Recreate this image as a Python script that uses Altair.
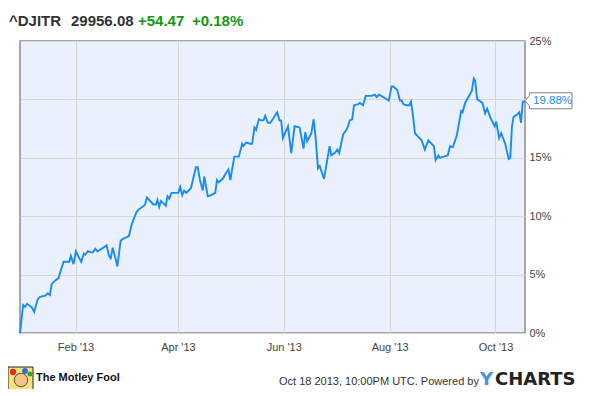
import altair as alt
import pandas as pd

# ---- data ----
day_offsets = [0, 1.8, 2.9, 4.1, 6.8, 8.2, 10.2, 11.6, 14.5, 16.0,
               17.2, 18.3, 20.3, 22.2, 25.1, 27.0, 28.4, 29.3, 30.9, 32.2,
               33.8, 35.3, 36.8, 37.6, 39.1, 41.1, 42.0, 43.4, 44.6, 46.9,
               48.0, 49.9, 51.3, 52.3, 53.4, 55.0, 56.1, 58.0, 58.8, 59.9,
               62.8, 64.2, 65.4, 67.3, 68.6, 70.6, 72.1, 73.1, 75.0, 76.9,
               78.3, 79.2, 80.2, 81.2, 82.7, 84.0, 85.0, 86.0, 87.3, 88.8,
               91.2, 92.3, 93.5, 94.6, 95.8, 98.5, 99.8, 101.4, 102.4, 103.7,
               105.3, 106.2, 108.2, 110.1, 112.5, 113.5, 114.5, 116.8, 118.7, 120.1,
               121.2, 123.5, 126.1, 128.0, 128.7, 130.3, 132.6, 133.8, 135.1, 136.1,
               137.6, 139.0, 140.3, 141.3, 142.8, 144.2, 146.1, 148.2, 149.5, 150.5,
               151.5, 154.4, 156.3, 158.2, 161.1, 163.4, 164.4, 165.5, 167.9, 169.2,
               170.3, 171.7, 172.7, 175.2, 177.5, 178.4, 179.4, 181.3, 182.9, 183.9,
               186.2, 188.1, 189.1, 190.0, 191.4, 192.5, 194.9, 195.8, 197.7, 199.2,
               202.5, 204.5, 205.4, 207.0, 209.3, 212.5, 214.1, 215.1, 217.4, 218.9,
               219.9, 220.9, 222.4, 224.3, 225.3, 226.2, 227.6, 229.5, 231.4, 233.3,
               235.3, 237.2, 238.5, 239.5, 241.1, 242.0, 244.0, 246.5, 247.8, 249.4,
               251.7, 253.0, 254.2, 255.0, 256.5, 258.4, 260.3, 261.5, 262.3, 263.4,
               264.6, 266.5, 268.0, 269.2, 270.9, 273.5, 274.4, 276.1, 277.3, 279.6,
               281.6, 282.5, 283.5, 284.4, 286.4, 287.7, 288.7, 289.7, 290.4, 291.0]

pct_values = [0, 2.4, 2.25, 2.5, 2.2, 1.8, 2.9, 3.1, 3.2, 3.4,
              3.25, 4.2, 4.5, 4.7, 6.1, 6.1, 6.1, 6.6, 5.9, 7.0,
              6.5, 6.1, 6.8, 6.7, 7.0, 6.9, 6.9, 7.2, 7.0, 7.2,
              7.3, 7.5, 6.6, 6.4, 7.3, 6.4, 5.7, 7.9, 8.0, 8.1,
              8.3, 9.2, 9.7, 10.4, 10.6, 10.8, 11.0, 11.6, 11.3, 11.0,
              11.0, 11.4, 10.8, 11.3, 11.1, 10.9, 11.7, 11.5, 12.0, 12.0,
              12.0, 12.5, 11.8, 12.2, 12.0, 12.4, 13.2, 14.2, 14.2, 13.1,
              12.2, 13.4, 11.7, 11.8, 12.0, 13.1, 12.9, 13.2, 13.7, 14.0,
              13.1, 15.1, 15.1, 16.2, 16.0, 16.3, 16.2, 16.2, 17.6, 17.4,
              18.3, 18.2, 18.2, 18.6, 18.0, 18.0, 18.4, 18.9, 18.2, 18.2,
              16.7, 17.7, 15.4, 17.7, 17.6, 15.8, 17.2, 16.4, 17.1, 18.3,
              16.8, 14.1, 14.3, 13.2, 15.2, 16.0, 15.2, 15.4, 15.7, 15.4,
              17.0, 17.4, 17.7, 18.2, 18.3, 19.5, 19.6, 19.7, 19.5, 20.3,
              20.3, 20.4, 20.2, 20.4, 20.2, 19.9, 21.1, 21.1, 20.8, 19.9,
              19.9, 19.6, 19.5, 19.5, 19.8, 18.9, 17.1, 16.8, 16.5, 15.7,
              16.5, 16.2, 16.0, 14.8, 15.2, 15.0, 15.1, 15.2, 16.0, 15.9,
              16.9, 18.0, 19.0, 18.9, 19.7, 20.2, 20.7, 21.8, 21.6, 20.0,
              19.9, 19.7, 18.8, 19.2, 18.5, 17.7, 18.1, 16.7, 17.1, 16.2,
              14.9, 15.0, 17.7, 18.5, 18.7, 18.9, 18.0, 19.8, 19.8, 19.88]

tick_months = [2, 4, 6, 8, 10]
y_ticks = [0, 5, 10, 15, 20, 25]

ticker = "^DJITR"
price = "29956.08"
change = "+54.47"
change_pct = "+0.18%"
footer_brand = "The Motley Fool"
footer_note = "Oct 18 2013, 10:00PM UTC.  Powered by"

# ---- build table ----
start = pd.Timestamp("2012-12-31")
dates = (start + pd.to_timedelta(day_offsets, unit="D")).strftime("%Y-%m-%dT%H:%M:%SZ")
df = pd.DataFrame({"date": list(dates), "value": pct_values})
last = df.tail(1)

FONT = "Liberation Sans"
LINE = "#1a8cf0"

x_enc = alt.X(
    "date:T",
    scale=alt.Scale(type="utc",
                    domain=[alt.DateTime(year=2012, month=12, date=31, utc=True),
                            alt.DateTime(year=2013, month=10, date=18, utc=True)]),
    axis=alt.Axis(values=[alt.DateTime(year=2013, month=m, date=1, utc=True) for m in tick_months],
                  labelExpr="utcFormat(datum.value, \"%b '%y\")", title=None, ticks=False, domain=False,
                  grid=True, gridColor="#d6d6d6", labelFontSize=11, labelColor="#444",
                  labelFont=FONT, labelPadding=8),
)
y_enc = alt.Y(
    "value:Q",
    scale=alt.Scale(domain=[0, 25], nice=False),
    axis=alt.Axis(orient="right", values=y_ticks,
                  labelExpr="datum.value == 20 ? '' : datum.value + '%'", title=None,
                  ticks=False, domain=False, grid=True, gridColor="#d6d6d6",
                  labelFontSize=11, labelColor="#444", labelFont=FONT, labelPadding=4),
)

line = alt.Chart(df).mark_line(color=LINE, strokeWidth=1.9).encode(x=x_enc, y=y_enc)

callout_path = "M-1,0 L-0.817,-0.21 L-0.817,-0.34 L1,-0.34 L1,0.34 L-0.817,0.34 L-0.817,0.21 Z"
callout_box = alt.Chart(last).mark_point(
    shape=callout_path, size=2209, filled=True, fill="white", stroke="#808080",
    strokeWidth=1, opacity=1
).encode(x=alt.value(528.5), y=alt.Y("value:Q"))
callout_text = alt.Chart(last).transform_calculate(
    label="format(datum.value, '.2f') + '%'"
).mark_text(align="left", baseline="middle", fontSize=11.5, color=LINE, font=FONT).encode(
    x=alt.value(513), y=alt.Y("value:Q"), text="label:N")


def label(text, x, y, **kw):
    return alt.Chart(pd.DataFrame({"t": [text]})).mark_text(font=FONT, **kw).encode(
        x=alt.value(x), y=alt.value(y), text="t:N")


t1 = label(ticker, -11, -15, align="left", baseline="alphabetic", fontSize=15, fontWeight="bold", color="#333")
t2 = label(price, 51, -15, align="left", baseline="alphabetic", fontSize=15, fontWeight="bold", color="#333")
t3 = label(change, 118, -15, align="left", baseline="alphabetic", fontSize=15, fontWeight="bold", color="#119911")
t4 = label(change_pct, 172, -15, align="left", baseline="alphabetic", fontSize=15, fontWeight="bold", color="#119911")

f1 = label(footer_brand, 16, 337, align="left", baseline="middle", fontSize=11, fontWeight="bold", color="#111")
f2 = label(footer_note, 259, 341, align="left", baseline="middle", fontSize=11, color="#333")
f3 = alt.Chart(pd.DataFrame({"t": ["Y"]})).mark_text(
    font="DejaVu Sans", align="left", baseline="middle", fontSize=18, fontWeight="bold", color="#4a90e2"
).encode(x=alt.value(460), y=alt.value(339), text="t:N")
f4 = alt.Chart(pd.DataFrame({"t": ["CHARTS"]})).mark_text(
    font="DejaVu Sans", align="left", baseline="middle", fontSize=18, fontWeight="bold", color="#222"
).encode(x=alt.value(475), y=alt.value(339), text="t:N")

one = pd.DataFrame({"k": [0]})
logo_frame = alt.Chart(one).mark_rect(fill="#fbe27a", stroke="#222", strokeWidth=1).encode(
    x=alt.value(-12), x2=alt.value(13), y=alt.value(326), y2=alt.value(349))
logo_face = alt.Chart(one).mark_point(filled=True, color="#f2c48a", size=180, opacity=1,
                                      stroke="#333", strokeWidth=0.8).encode(
    x=alt.value(1), y=alt.value(339))
logo_hat1 = alt.Chart(one).mark_point(filled=True, color="#d9302a", size=40, opacity=1).encode(
    x=alt.value(-7), y=alt.value(331))
logo_hat2 = alt.Chart(one).mark_point(filled=True, color="#2f6fd6", size=35, opacity=1).encode(
    x=alt.value(5), y=alt.value(330))
logo_hat3 = alt.Chart(one).mark_point(filled=True, color="#3a9a3a", size=25, opacity=1).encode(
    x=alt.value(10), y=alt.value(333))

chart = alt.layer(
    line, callout_box, callout_text, t1, t2, t3, t4, f1, f2, f3, f4,
    logo_frame, logo_face, logo_hat1, logo_hat2, logo_hat3
).properties(
    width=505, height=292,
    padding={"left": 12, "top": 33, "right": 57, "bottom": 56},
    autosize=alt.AutoSizeParams(type="none"),
    background="white",
).configure_view(
    fill="#eaf1fc", stroke="#8c8c8c", strokeWidth=1.5
)

chart.save("out.html", embed_options={"renderer": "svg", "actions": False})
